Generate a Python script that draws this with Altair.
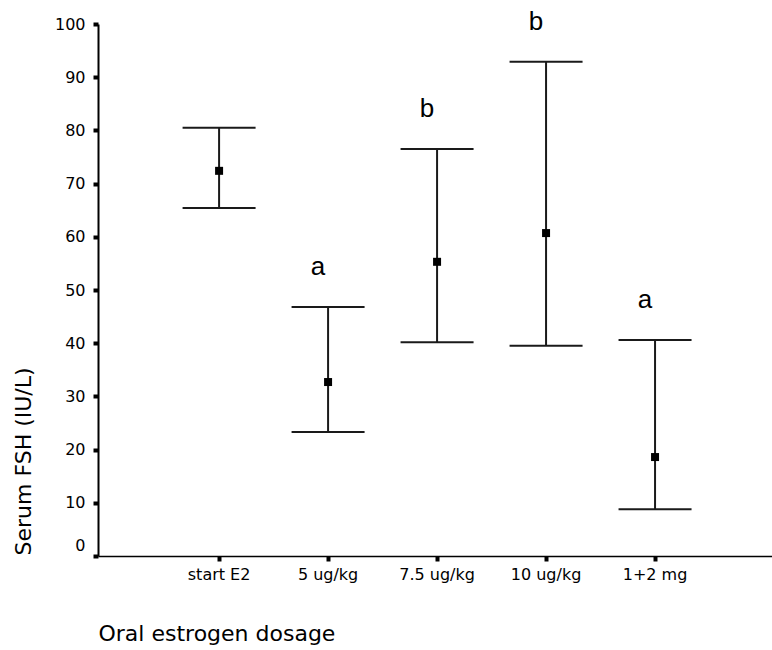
import altair as alt
import pandas as pd

categories = ["start E2", "5 ug/kg", "7.5 ug/kg", "10 ug/kg", "1+2 mg"]
means = [72.4, 32.7, 55.3, 60.7, 18.6]
lowers = [65.4, 23.3, 40.2, 39.5, 8.8]
uppers = [80.5, 46.8, 76.5, 92.9, 40.6]
letters = ["", "a", "b", "b", "a"]

df = pd.DataFrame({"cat": categories, "mean": means, "lo": lowers,
                   "hi": uppers, "letter": letters})

y_ticks = list(range(0, 101, 5))

x_scale = alt.Scale(type="band", paddingInner=0, paddingOuter=0.592, align=0.516)

x_enc = alt.X("cat:N", sort=categories, scale=x_scale,
              axis=alt.Axis(title="Oral estrogen dosage", labelAngle=0,
                            labelFont="DejaVu Sans", labelFontSize=16,
                            labelColor="black", labelPadding=5,
                            tickColor="black", tickWidth=4, tickSize=5,
                            domainColor="black", domainWidth=1.5,
                            titleFont="DejaVu Sans", titleFontSize=22,
                            titleFontWeight="normal", titleColor="black",
                            titleAnchor="start", titleAlign="left",
                            titleBaseline="middle", titleX=0, titleY=77,
                            grid=False))

y_scale = alt.Scale(domain=[0, 100], nice=False, zero=True)
y_axis = alt.Axis(title="Serum FSH (IU/L)", values=y_ticks,
                  labelExpr="datum.value % 10 === 0 ? datum.label : ''",
                  labelFont="DejaVu Sans", labelFontSize=16,
                  labelColor="black", labelPadding=8,
                  labelOffset={"condition": {"test": "datum.value === 0", "value": -11}, "value": 0},
                  tickColor="black",
                  tickWidth={"condition": {"test": "datum.value % 10 === 0", "value": 4}, "value": 1.5},
                  tickSize=5,
                  domainColor="black", domainWidth=2,
                  titleFont="DejaVu Sans", titleFontSize=22,
                  titleFontWeight="normal", titleColor="black",
                  titleAngle=270, titleAlign="left", titleBaseline="middle",
                  titleX=-75, titleY=531, grid=False)

base = alt.Chart(df)
line_color = "#1a1a1a"

rules = base.mark_rule(color=line_color, strokeWidth=2).encode(
    x=x_enc, y=alt.Y("lo:Q", scale=y_scale, axis=y_axis), y2="hi:Q")

caps_hi = base.mark_tick(color=line_color, size=73, thickness=2, opacity=1,
                         orient="horizontal").encode(
    x=alt.X("cat:N", sort=categories), y=alt.Y("hi:Q"))
caps_lo = base.mark_tick(color=line_color, size=73, thickness=2, opacity=1,
                         orient="horizontal").encode(
    x=alt.X("cat:N", sort=categories), y=alt.Y("lo:Q"))

pts = base.mark_square(color="black", size=64, opacity=1).encode(
    x=alt.X("cat:N", sort=categories), y=alt.Y("mean:Q"))

txt = base.mark_text(font="Liberation Sans", fontSize=26, color="black",
                     dy=-32, dx=-10, baseline="alphabetic", align="center").encode(
    x=alt.X("cat:N", sort=categories), y=alt.Y("hi:Q"), text="letter:N")

chart = alt.layer(rules, caps_hi, caps_lo, pts, txt).properties(
    width=674, height=532,
    view=alt.ViewBackground(stroke="transparent", strokeWidth=0, strokeOpacity=0),
    autosize=alt.AutoSizeParams(type="none"),
    padding={"left": 98, "top": 24, "right": 0, "bottom": 94},
).configure_view(strokeWidth=0, stroke=None).configure_axis(
    grid=False, gridOpacity=0
).configure(background="white")

chart.save("out.html", embed_options={"renderer": "svg", "actions": False})
